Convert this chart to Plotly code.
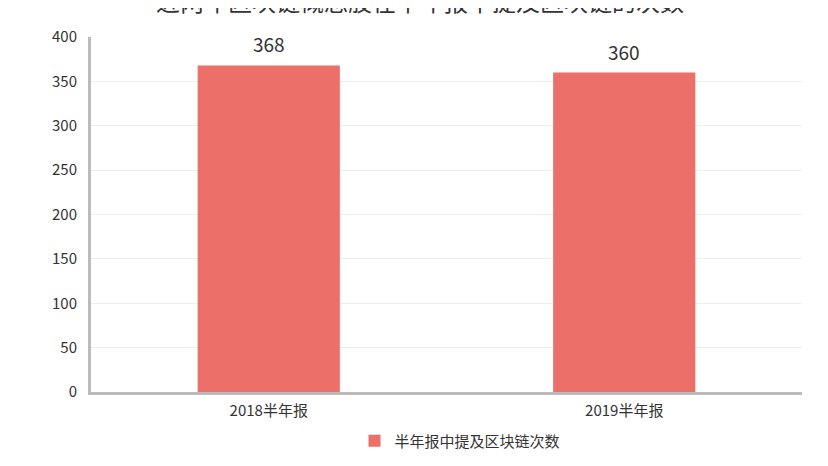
import plotly.graph_objects as go

categories = ["2018半年报", "2019半年报"]
values = [368, 360]
series_name = "半年报中提及区块链次数"
title_text = "近两年区块链概念股在半年报中提及区块链的次数"

FONT = "Noto Sans CJK SC, Microsoft YaHei, sans-serif"

# the page body has an 8px margin, so the figure is sized / placed to compensate
W, H = 820, 458

fig = go.Figure()
fig.add_trace(go.Bar(
    x=categories, y=values, name=series_name,
    marker=dict(color="#EC6F69", line=dict(width=0)),
    width=0.4,
    showlegend=True,
))

for c, v in zip(categories, values):
    fig.add_annotation(x=c, y=v, text=str(v), showarrow=False, yanchor="bottom",
                       yshift=6, font=dict(size=19, color="#333333", family=FONT))

# title (partly above the top edge, as in the reference)
fig.add_annotation(text=title_text, xref="paper", yref="paper", x=(420 - 91) / (802 - 91),
                   y=1, xanchor="center", yanchor="middle", yshift=37, showarrow=False,
                   font=dict(size=24, color="#333333", family=FONT))

fig.update_layout(
    width=W, height=H,
    margin=dict(l=83, r=26, t=29, b=74, autoexpand=False),
    paper_bgcolor="white", plot_bgcolor="white",
    font=dict(family=FONT, color="#333333"),
    showlegend=True,
    legend=dict(orientation="h", x=(460 - 8) / W, xanchor="center", xref="container",
                y=(H - 433) / H, yanchor="middle", yref="container",
                font=dict(size=15, color="#333333", family=FONT)),
    bargap=0.6,
)
fig.update_yaxes(range=[0, 400], dtick=50, showgrid=True, gridcolor="#EEEEEE", gridwidth=1,
                 showline=True, linecolor="#BBBBBB", linewidth=3, zeroline=False,
                 tickfont=dict(size=15, color="#333333"), ticks="", ticklabelstandoff=8,
                 automargin=False)
fig.update_xaxes(showline=True, linecolor="#BBBBBB", linewidth=3,
                 tickfont=dict(size=15, color="#333333"), ticks="", automargin=False,
                 ticklabelstandoff=3)

fig.write_html("out.html")
